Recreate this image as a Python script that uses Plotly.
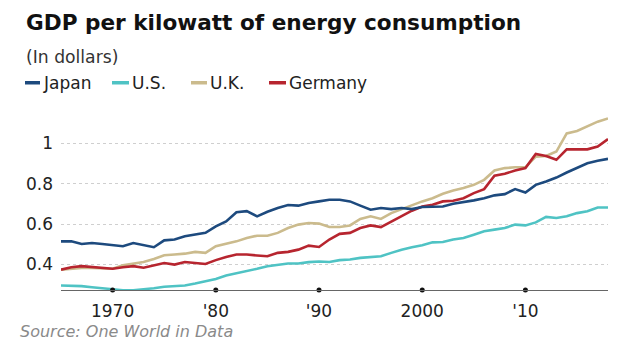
import plotly.graph_objects as go

years = list(range(1965, 2019))

japan = [0.514, 0.514, 0.501, 0.506, 0.501, 0.496, 0.490, 0.506, 0.495, 0.485,
         0.519, 0.523, 0.539, 0.546, 0.556, 0.588, 0.613, 0.658, 0.664, 0.638,
         0.661, 0.679, 0.694, 0.691, 0.704, 0.712, 0.720, 0.720, 0.712, 0.691,
         0.671, 0.679, 0.674, 0.679, 0.674, 0.684, 0.687, 0.687, 0.700, 0.707,
         0.717, 0.728, 0.742, 0.748, 0.773, 0.756, 0.794, 0.811, 0.830, 0.855,
         0.880, 0.901, 0.913, 0.923]

us = [0.295, 0.295, 0.292, 0.287, 0.281, 0.276, 0.272, 0.272, 0.276, 0.282,
      0.289, 0.292, 0.295, 0.305, 0.315, 0.328, 0.345, 0.355, 0.366, 0.378,
      0.391, 0.399, 0.404, 0.404, 0.411, 0.414, 0.412, 0.421, 0.424, 0.432,
      0.437, 0.440, 0.457, 0.473, 0.485, 0.495, 0.509, 0.511, 0.523, 0.531,
      0.547, 0.564, 0.572, 0.580, 0.597, 0.593, 0.608, 0.635, 0.630, 0.638,
      0.654, 0.663, 0.682, 0.682]

uk = [0.373, 0.378, 0.382, 0.382, 0.380, 0.378, 0.396, 0.404, 0.412, 0.427,
      0.445, 0.449, 0.453, 0.462, 0.457, 0.490, 0.503, 0.514, 0.531, 0.542,
      0.542, 0.556, 0.580, 0.597, 0.605, 0.602, 0.585, 0.585, 0.593, 0.625,
      0.638, 0.625, 0.654, 0.674, 0.691, 0.712, 0.728, 0.750, 0.766, 0.778,
      0.794, 0.819, 0.865, 0.877, 0.881, 0.881, 0.934, 0.937, 0.959, 1.049,
      1.061, 1.086, 1.107, 1.123]

germany = [0.374, 0.386, 0.391, 0.386, 0.381, 0.378, 0.386, 0.391, 0.383, 0.394,
           0.407, 0.399, 0.412, 0.407, 0.402, 0.421, 0.437, 0.449, 0.449, 0.444,
           0.440, 0.457, 0.462, 0.473, 0.493, 0.486, 0.523, 0.551, 0.556, 0.580,
           0.593, 0.585, 0.613, 0.638, 0.666, 0.687, 0.695, 0.712, 0.715, 0.728,
           0.753, 0.773, 0.839, 0.849, 0.865, 0.877, 0.947, 0.937, 0.918, 0.970,
           0.970, 0.970, 0.984, 1.021]

series_names = ["Japan", "U.S.", "U.K.", "Germany"]
series_colors = ["#1d4a7e", "#4fc3c4", "#cbbb8d", "#b7252f"]

x_tickvals = [1970, 1980, 1990, 2000, 2010]
x_ticktext = ["1970", "'80", "'90", "2000", "'10"]
y_tickvals = [0.4, 0.6, 0.8, 1.0]
y_ticktext = ["0.4", "0.6", "0.8", "1"]

W, H = 641, 341
ML, MR, MT, MB = 61, 33, 113, 51
PW, PH = W - ML - MR, H - MT - MB
Y_MIN, Y_MAX = 0.273, 1.15

def px(x):
    return (x - ML) / PW

def py(y):
    return (H - MB - y) / PH

FONT = "DejaVu Sans, Liberation Sans, Arial, sans-serif"

fig = go.Figure()
data = {"Japan": japan, "U.S.": us, "U.K.": uk, "Germany": germany}
draw_order = ["U.K.", "U.S.", "Germany", "Japan"]
for name in draw_order:
    c = series_colors[series_names.index(name)]
    fig.add_trace(go.Scatter(x=years, y=data[name], mode="lines", name=name,
                             line=dict(color=c, width=2.6), showlegend=False))

# tick dots on the axis line
fig.add_trace(go.Scatter(x=x_tickvals, y=[Y_MIN] * len(x_tickvals), mode="markers",
                         marker=dict(color="#111111", size=5), cliponaxis=False,
                         showlegend=False, hoverinfo="skip"))

fig.update_layout(
    width=W, height=H,
    margin=dict(l=ML, r=MR, t=MT, b=MB, pad=0),
    paper_bgcolor="white", plot_bgcolor="white",
    font=dict(family=FONT, color="#222222"),
    showlegend=False,
)
fig.update_xaxes(range=[1965, 2018], tickvals=x_tickvals, ticktext=x_ticktext,
                 showgrid=False, zeroline=False, showline=True, linecolor="#666666",
                 linewidth=1, ticks="", ticklabelstandoff=6,
                 tickfont=dict(size=17, color="#222222"))
fig.update_yaxes(range=[Y_MIN, Y_MAX], tickvals=y_tickvals, ticktext=y_ticktext,
                 showgrid=True, gridcolor="#cfcfcf", griddash="dot", gridwidth=1,
                 zeroline=False, showline=False, ticks="", ticklabelstandoff=7,
                 tickfont=dict(size=17, color="#222222"))

annotations = [
    dict(text="<b>GDP per kilowatt of energy consumption</b>", x=px(24), y=py(22),
         font=dict(size=21.6, color="#111111", family=FONT)),
    dict(text="(In dollars)", x=px(24), y=py(57), font=dict(size=17.2, color="#333333", family=FONT)),
    dict(text="<i>Source: One World in Data</i>", x=px(18), y=py(331),
         font=dict(size=16, color="#8a8a8a", family=FONT)),
]
legend_marks = [(25, 40, 41), (112, 129, 130), (191, 207, 208), (269, 286, 287)]
shapes = []
for (x0, x1, xt), name in zip(legend_marks, series_names):
    c = series_colors[series_names.index(name)]
    shapes.append(dict(type="rect", xref="paper", yref="paper", x0=px(x0), x1=px(x1),
                       y0=py(84.5), y1=py(81), fillcolor=c, line=dict(width=0)))
    annotations.append(dict(text=name, x=px(xt), y=py(83),
                            font=dict(size=17, color="#222222", family=FONT)))
for a in annotations:
    a.update(xref="paper", yref="paper", xanchor="left", yanchor="middle", showarrow=False)
fig.update_layout(annotations=annotations, shapes=shapes)

fig.write_html("out.html")
